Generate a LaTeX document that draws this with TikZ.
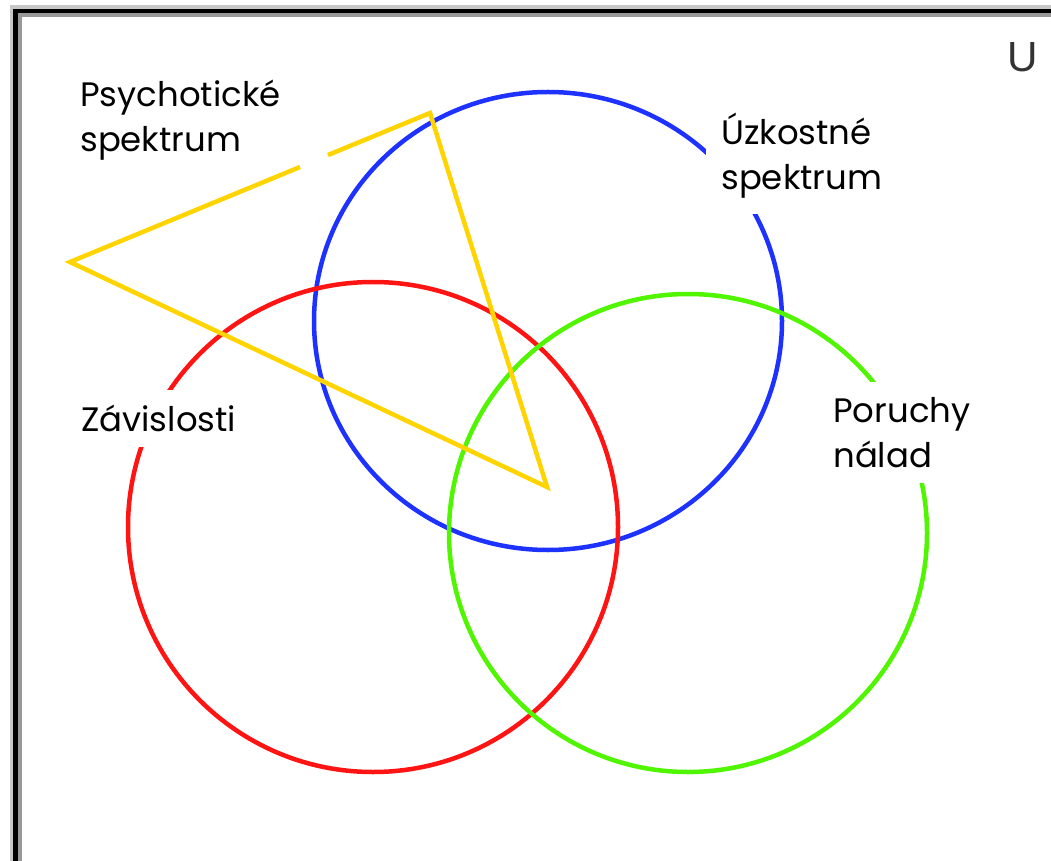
\documentclass[tikz,border=0pt]{standalone}
\usepackage{fontspec}
\setmainfont{Poppins}
\newfontfamily\ufont{Liberation Sans}
\definecolor{ringblue}{RGB}{30,50,255}
\definecolor{ringred}{RGB}{255,20,20}
\definecolor{ringgreen}{RGB}{80,245,0}
\definecolor{triyellow}{RGB}{255,212,0}
\tikzset{
  ring/.style={line width=0.09cm},
  setlabel/.style={anchor=north west,align=left,fill=white,inner sep=0.3cm,font=\fontsize{19.3}{25.6}\selectfont},
}
\begin{document}
\begin{tikzpicture}[x=0.02cm,y=-0.02cm]
\useasboundingbox[fill=white] (0,0) rectangle (1051,861);
\fill[black!22] (10,5) rectangle (1051,9);
\fill[black!22] (10,5) rectangle (13,861);
\fill[black] (13,9) rectangle (1051,13);
\fill[black] (13,9) rectangle (18,861);
\fill[black!40] (18,13) rectangle (1051,17);
\fill[black!40] (18,13) rectangle (22,861);
\draw[ring,ringblue] (548,321) ellipse [x radius=234,y radius=229];
\draw[ring,ringred] (373,527) circle [radius=245];
\draw[ring,ringgreen] (688,533) circle [radius=239];
\coordinate (apexL) at (70,262);
\coordinate (apexT) at (430,113);
\coordinate (apexB) at (547,487);
\coordinate (gapA) at (300,167);
\coordinate (gapB) at (328,155);
\draw[ring,triyellow] (gapB) -- (apexT) -- (apexB) -- (apexL) -- (gapA);
\node[setlabel,fill=none] (psych) at (65,65) {Psychotické\\spektrum};
\node[setlabel] (anx) at (706,98) {Úzkostné\\spektrum};
\node[setlabel] (dep) at (66,390) {Závislosti};
\node[setlabel] (mood) at (818,382) {Poruchy\\nálad};
\node[font=\ufont\fontsize{24}{24}\selectfont,text=black!80] (univ) at (1023,57) {U};
\end{tikzpicture}
\end{document}
